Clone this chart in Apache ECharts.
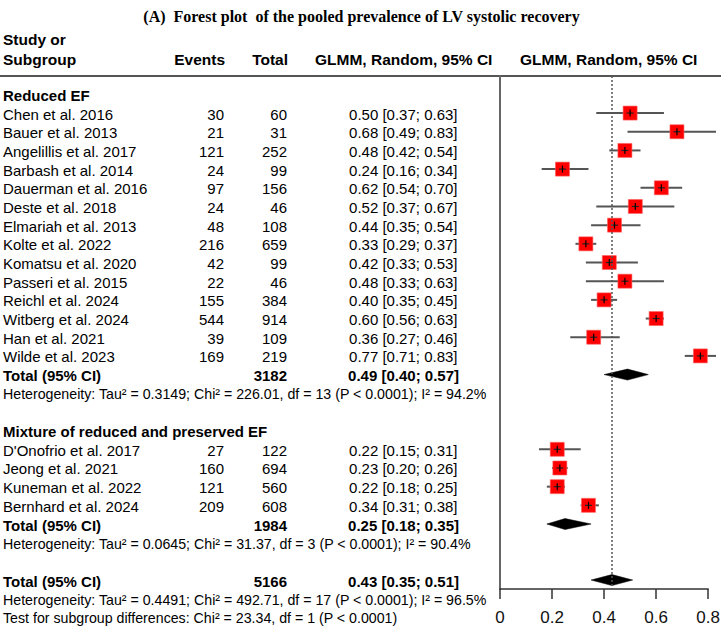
<!DOCTYPE html>
<html><head><meta charset="utf-8">
<script src="https://cdn.jsdelivr.net/npm/echarts@6/dist/echarts.min.js"></script>
<style>html,body{margin:0;padding:0;background:#fff}#c{width:723px;height:630px}</style>
</head><body><div id="c"></div>
<script>
// ---- data ----
const reducedStudies = ["Chen et al. 2016","Bauer et al. 2013","Angelillis et al. 2017","Barbash et al. 2014","Dauerman et al. 2016","Deste et al. 2018","Elmariah et al. 2013","Kolte et al. 2022","Komatsu et al. 2020","Passeri et al. 2015","Reichl et al. 2024","Witberg et al. 2024","Han et al. 2021","Wilde et al. 2023"];
const reducedEvents = [30,21,121,24,97,24,48,216,42,22,155,544,39,169];
const reducedTotals = [60,31,252,99,156,46,108,659,99,46,384,914,109,219];
const reducedEst = [0.50,0.68,0.48,0.24,0.62,0.52,0.44,0.33,0.42,0.48,0.40,0.60,0.36,0.77];
const reducedLo  = [0.37,0.49,0.42,0.16,0.54,0.37,0.35,0.29,0.33,0.33,0.35,0.56,0.27,0.71];
const reducedHi  = [0.63,0.83,0.54,0.34,0.70,0.67,0.54,0.37,0.53,0.63,0.45,0.63,0.46,0.83];

const mixedStudies = ["D'Onofrio et al. 2017","Jeong et al. 2021","Kuneman et al. 2022","Bernhard et al. 2024"];
const mixedEvents = [27,160,121,209];
const mixedTotals = [122,694,560,608];
const mixedEst = [0.22,0.23,0.22,0.34];
const mixedLo  = [0.15,0.20,0.18,0.31];
const mixedHi  = [0.31,0.26,0.25,0.38];

const subgroupNames = ["Reduced EF","Mixture of reduced and preserved EF"];
const pooledN   = [3182,1984,5166];   // reduced, mixed, overall
const pooledEst = [0.49,0.25,0.43];
const pooledLo  = [0.40,0.18,0.35];
const pooledHi  = [0.57,0.35,0.51];
const heterogeneity = [
  "Heterogeneity: Tau\u00b2 = 0.3149; Chi\u00b2 = 226.01, df = 13 (P < 0.0001); I\u00b2 = 94.2%",
  "Heterogeneity: Tau\u00b2 = 0.0645; Chi\u00b2 = 31.37, df = 3 (P < 0.0001); I\u00b2 = 90.4%",
  "Heterogeneity: Tau\u00b2 = 0.4491; Chi\u00b2 = 492.71, df = 17 (P < 0.0001); I\u00b2 = 96.5%"
];
const subgroupTest = "Test for subgroup differences: Chi\u00b2 = 23.34, df = 1 (P < 0.0001)";
const refLine = 0.43;
const xTicks = [0,0.2,0.4,0.6,0.8];

// ---- build table rows ----
const fmt = (e,l,h) => e.toFixed(2)+" ["+l.toFixed(2)+"; "+h.toFixed(2)+"]";
const rows = [];
const studyPts = [];
const diamonds = [];
let r = 0;
function addGroup(gi, names, ev, tot, est, lo, hi){
  rows.push({row:r++, name:subgroupNames[gi], kind:'head'});
  names.forEach((n,i)=>{
    rows.push({row:r, name:n, events:String(ev[i]), total:String(tot[i]), ci:fmt(est[i],lo[i],hi[i]), kind:'study'});
    studyPts.push([est[i], r, lo[i], hi[i]]);
    r++;
  });
  rows.push({row:r, name:"Total (95% CI)", events:"", total:String(pooledN[gi]), ci:fmt(pooledEst[gi],pooledLo[gi],pooledHi[gi]), kind:'total'});
  diamonds.push([pooledEst[gi], r, pooledLo[gi], pooledHi[gi]]);
  r++;
  rows.push({row:r++, name:heterogeneity[gi], kind:'het'});
  r++; // blank
}
addGroup(0, reducedStudies, reducedEvents, reducedTotals, reducedEst, reducedLo, reducedHi);
addGroup(1, mixedStudies, mixedEvents, mixedTotals, mixedEst, mixedLo, mixedHi);
rows.push({row:r, name:"Total (95% CI)", events:"", total:String(pooledN[2]), ci:fmt(pooledEst[2],pooledLo[2],pooledHi[2]), kind:'total'});
diamonds.push([pooledEst[2], r, pooledLo[2], pooledHi[2]]);
r++;
rows.push({row:r++, name:heterogeneity[2], kind:'het'});
rows.push({row:r++, name:subgroupTest, kind:'het'});

const SANS = '"Liberation Sans", Arial, sans-serif';
function txt(x, y, s, size, bold, align){
  return {type:'text', x:x, y:y, silent:true,
    style:{text:s, fill:'#000', fontSize:size, fontFamily:SANS, fontWeight: bold?'bold':'normal',
      align:align, textAlign:align, verticalAlign:'middle', textVerticalAlign:'middle'}};
}

const chart = echarts.init(document.getElementById('c'), null, {renderer:'svg'});
chart.setOption({
  animation:false,
  backgroundColor:'#fff',
  title:{text:"(A)  Forest plot  of the pooled prevalence of LV systolic recovery", left:'center', top:3,
    textStyle:{fontFamily:'"Liberation Serif", "Times New Roman", serif', fontWeight:'bold', fontSize:16, color:'#000'}},
  graphic:[
    {type:'text', left:3, top:31, style:{text:"Study or", font:'bold 15.5px '+SANS, fill:'#000'}},
    {type:'text', left:3, top:51, style:{text:"Subgroup", font:'bold 15.5px '+SANS, fill:'#000'}},
    {type:'text', right:723-225, top:51, style:{text:"Events", font:'bold 15.5px '+SANS, fill:'#000'}},
    {type:'text', right:723-288, top:51, style:{text:"Total", font:'bold 15.5px '+SANS, fill:'#000'}},
    {type:'text', left:315, top:51, style:{text:"GLMM, Random, 95% CI", font:'bold 15.5px '+SANS, fill:'#000'}},
    {type:'text', left:520, top:51, style:{text:"GLMM, Random, 95% CI", font:'bold 15.5px '+SANS, fill:'#000'}},
    {type:'line', shape:{x1:0,y1:76,x2:721,y2:76}, style:{stroke:'#555', lineWidth:2}}
  ],
  grid:{left:500, top:76, width:211, height:513, containLabel:false},
  xAxis:{type:'value', min:0, max:0.8, interval:0.2,
    axisLine:{show:true, onZero:false, lineStyle:{color:'#333', width:1.5}},
    axisTick:{show:true, length:10, lineStyle:{color:'#333', width:1.5}},
    axisLabel:{fontSize:17, fontFamily:SANS, color:'#111', margin:20,
      formatter:v => xTicks.indexOf(+v.toFixed(1))>=0 ? (v===0?'0':String(+v.toFixed(1))) : ''},
    splitLine:{show:false}},
  yAxis:{type:'value', inverse:true, min:-0.985, max:26.479,
    axisLine:{show:true, lineStyle:{color:'#666', width:2}},
    axisTick:{show:false}, axisLabel:{show:false}, splitLine:{show:false}},
  series:[
    {type:'custom', clip:false, silent:true, data:rows.map(o=>[0,o.row]),
      renderItem:(p, api)=>{
        const o = rows[p.dataIndex];
        const y = api.coord([0, api.value(1)])[1] + 1;
        const ch = [];
        if(o.kind==='head'){ ch.push(txt(3,y,o.name,15,true,'left')); }
        else if(o.kind==='het'){ ch.push(txt(3,y,o.name,14.2,false,'left')); }
        else {
          const b = o.kind==='total';
          ch.push(txt(3,y,o.name,15,b,'left'));
          if(o.events) ch.push(txt(224,y,o.events,15,b,'right'));
          ch.push(txt(287,y,o.total,15,b,'right'));
          ch.push(txt(b?459:457.5,y,o.ci,15,b,'right'));
        }
        return {type:'group', children:ch};
      },
      markLine:{silent:true, symbol:'none', label:{show:false},
        lineStyle:{color:'#555', type:[2,2], width:1.5}, data:[{xAxis:refLine}]}
    },
    {type:'custom', clip:false, silent:true, data:studyPts,
      renderItem:(p, api)=>{
        const c = api.coord([api.value(0), api.value(1)]);
        const l = api.coord([api.value(2), api.value(1)])[0];
        const h = api.coord([api.value(3), api.value(1)])[0];
        const s = 14;
        return {type:'group', children:[
          {type:'line', shape:{x1:l,y1:c[1],x2:h,y2:c[1]}, style:{stroke:'#555', lineWidth:2}},
          {type:'rect', shape:{x:c[0]-s/2, y:c[1]-s/2, width:s, height:s}, style:{fill:'#ff0000', stroke:'#ff6060', lineWidth:0.6}},
          {type:'line', shape:{x1:c[0]-3.5,y1:c[1],x2:c[0]+3.5,y2:c[1]}, style:{stroke:'#222', lineWidth:1.2}},
          {type:'line', shape:{x1:c[0],y1:c[1]-3.5,x2:c[0],y2:c[1]+3.5}, style:{stroke:'#000', lineWidth:1.2}}
        ]};
      }},
    {type:'custom', clip:false, silent:true, data:diamonds,
      renderItem:(p, api)=>{
        const c = api.coord([api.value(0), api.value(1)]);
        const l = api.coord([api.value(2), api.value(1)])[0];
        const h = api.coord([api.value(3), api.value(1)])[0];
        const hh = 5.5;
        return {type:'polygon', shape:{points:[[l,c[1]],[c[0],c[1]-hh],[h,c[1]],[c[0],c[1]+hh]]}, style:{fill:'#000', stroke:'#000', lineWidth:0.5}};
      }}
  ]
});
</script></body></html>
